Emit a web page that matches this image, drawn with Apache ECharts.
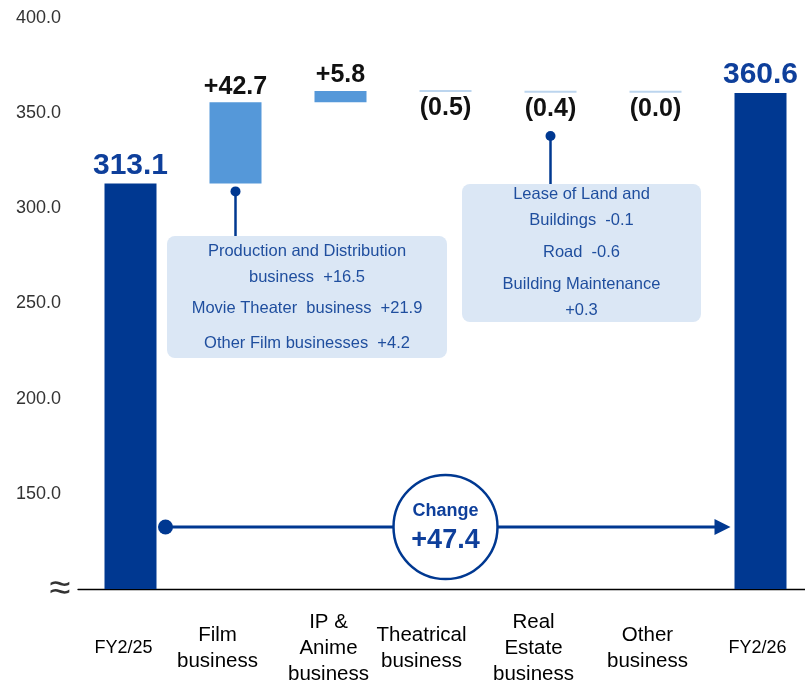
<!DOCTYPE html>
<html><head><meta charset="utf-8">
<script src="https://cdn.jsdelivr.net/npm/echarts@6/dist/echarts.min.js"></script>
<style>html,body{margin:0;padding:0;background:#fff}#c{width:805px;height:681px}</style>
</head><body><div id="c"></div>
<script>
var categories = ['FY2/25', 'Film\nbusiness', 'IP &\nAnime\nbusiness', 'Theatrical\nbusiness', 'Real\nEstate\nbusiness', 'Other\nbusiness', 'FY2/26'];
var startTotal = 313.1;
var changes = [42.7, 5.8, -0.5, -0.4, -0.0];
var endTotal = 360.6;
var totalChange = 47.4;
var yTicks = [100, 150, 200, 250, 300, 350, 400];
var filmDetail = ['Production and Distribution', 'business  +16.5', 'Movie Theater  business  +21.9', 'Other Film businesses  +4.2'];
var realEstateDetail = ['Lease of Land and', 'Buildings  -0.1', 'Road  -0.6', 'Building Maintenance', '+0.3'];

// layout only: horizontal shift (px, leftwards) of each category label, and its font size
var labelShift = [7, 18, 12, 24, 17, 8, 3];
var labelSize = [18, 20.5, 20.5, 20.5, 20.5, 20.5, 18];

var FONT = '"Liberation Sans", Arial, Helvetica, sans-serif';
var DARK = '#003891', MID = '#5598d9', LIGHT = '#bcd5ee', TXT = '#0e3f9b', BOXTXT = '#1f4e9e', BOXFILL = '#dbe7f5';

function isNeg(v) { return v < 0 || Object.is(v, -0); }

var baseData = [null], deltaData = [null], totalData = [];
var running = startTotal;
changes.forEach(function (c) {
  var neg = isNeg(c);
  var b;
  if (!neg) { b = running; running += c; } else { running += c; b = running; }
  baseData.push(+b.toFixed(2));
  deltaData.push({
    value: Math.abs(c),
    itemStyle: { color: neg ? LIGHT : MID },
    label: {
      show: true, position: neg ? 'bottom' : 'top', distance: neg ? 4 : 3,
      formatter: neg ? '(' + Math.abs(c).toFixed(1) + ')' : '+' + c.toFixed(1)
    }
  });
});
baseData.push(null); deltaData.push(null);
totalData = [startTotal, null, null, null, null, null, endTotal];

var catItems = categories.map(function (name, i) {
  return { value: name, textStyle: {
    fontSize: labelSize[i], lineHeight: 26, verticalAlign: 'middle', align: 'center',
    color: '#000', fontFamily: FONT, padding: [0, 2 * labelShift[i], 0, 0] } };
});

var chart = echarts.init(document.getElementById('c'), null, { renderer: 'canvas' });
chart.setOption({
  animation: false,
  backgroundColor: '#fff',
  textStyle: { fontFamily: FONT },
  grid: { left: 78, top: 18, width: 735, height: 571, containLabel: false, outerBoundsMode: 'none' },
  xAxis: {
    type: 'category', data: catItems,
    axisLine: { show: true, lineStyle: { color: '#000', width: 1.3 } },
    axisTick: { show: false },
    axisLabel: { interval: 0, margin: 59, verticalAlign: 'middle', fontSize: 20, lineHeight: 26, color: '#000', fontFamily: FONT, hideOverlap: false }
  },
  yAxis: {
    type: 'value', min: yTicks[0], max: yTicks[yTicks.length - 1], interval: 50,
    splitLine: { show: false }, axisLine: { show: false }, axisTick: { show: false },
    axisLabel: { margin: 17, fontSize: 18, color: '#333', fontFamily: FONT,
      formatter: function (v) { return v === yTicks[0] ? '' : v.toFixed(1); } }
  },
  series: [
    { name: 'total', type: 'bar', data: totalData, barWidth: 52, barGap: '-100%',
      itemStyle: { color: DARK },
      label: { show: true, position: 'top', distance: 3, fontSize: 30, fontWeight: 'bold', color: TXT, fontFamily: FONT,
        formatter: function (p) { return p.value.toFixed(1); } } },
    { name: 'base', type: 'bar', stack: 'w', data: baseData, barWidth: 52, barGap: '-100%',
      itemStyle: { color: 'rgba(0,0,0,0)' }, silent: true },
    { name: 'delta', type: 'bar', stack: 'w', data: deltaData, barWidth: 52, barGap: '-100%', barMinHeight: 2,
      label: { fontSize: 25, fontWeight: 'bold', color: '#111', fontFamily: FONT } }
  ]
});

function px(i, v) { return chart.convertToPixel({ xAxisIndex: 0, yAxisIndex: 0 }, [i, v]); }
var c0 = px(0, 0)[0], c1 = px(1, 0)[0], c4 = px(4, 0)[0], c6 = px(6, 0)[0], c3 = px(3, 0)[0];
var filmBottom = px(1, startTotal)[1];
var axisY = px(0, yTicks[0])[1];
var arrowY = 527;

function textLines(lines, cx, ys, size) {
  return lines.map(function (t, i) {
    return { type: 'text', z: 20, style: { text: t, x: cx, y: ys[i], align: 'center', verticalAlign: 'middle', fontSize: size, fill: BOXTXT, fontFamily: FONT } };
  });
}

var b1 = { x: 167, y: 236, w: 280, h: 122 };
var b2 = { x: 462, y: 184, w: 239, h: 138 };
var graphics = [
  { type: 'text', style: { text: '≈', x: 60, y: axisY + 1, align: 'center', verticalAlign: 'middle', fontSize: 38, fill: '#333', fontFamily: FONT } },
  // box 1
  { type: 'rect', z: 10, shape: { x: b1.x, y: b1.y, width: b1.w, height: b1.h, r: 8 }, style: { fill: BOXFILL } },
  { type: 'line', z: 10, shape: { x1: c1, y1: filmBottom + 8, x2: c1, y2: b1.y }, style: { stroke: DARK, lineWidth: 2.5 } },
  { type: 'circle', z: 11, shape: { cx: c1, cy: filmBottom + 8, r: 5 }, style: { fill: DARK } },
  // box 2
  { type: 'rect', z: 10, shape: { x: b2.x, y: b2.y, width: b2.w, height: b2.h, r: 8 }, style: { fill: BOXFILL } },
  { type: 'line', z: 10, shape: { x1: c4, y1: 136, x2: c4, y2: b2.y }, style: { stroke: DARK, lineWidth: 2.5 } },
  { type: 'circle', z: 11, shape: { cx: c4, cy: 136, r: 5 }, style: { fill: DARK } },
  // change arrow
  { type: 'line', z: 10, shape: { x1: c0 + 34, y1: arrowY, x2: c6 - 40, y2: arrowY }, style: { stroke: DARK, lineWidth: 3 } },
  { type: 'polygon', z: 10, shape: { points: [[c6 - 46, arrowY - 8], [c6 - 30, arrowY], [c6 - 46, arrowY + 8]] }, style: { fill: DARK } },
  { type: 'circle', z: 11, shape: { cx: c0 + 35, cy: arrowY, r: 7.5 }, style: { fill: DARK } },
  { type: 'circle', z: 12, shape: { cx: c3, cy: arrowY, r: 52 }, style: { fill: '#fff', stroke: DARK, lineWidth: 2.5 } },
  { type: 'text', z: 13, style: { text: 'Change', x: c3, y: 511, align: 'center', verticalAlign: 'middle', fontSize: 18, fontWeight: 'bold', fill: TXT, fontFamily: FONT } },
  { type: 'text', z: 13, style: { text: '+' + totalChange.toFixed(1), x: c3, y: 541, align: 'center', verticalAlign: 'middle', fontSize: 27, fontWeight: 'bold', fill: TXT, fontFamily: FONT } }
];
graphics = graphics.concat(textLines(filmDetail, b1.x + b1.w / 2, [251, 277, 308, 343], 16.5));
graphics = graphics.concat(textLines(realEstateDetail, b2.x + b2.w / 2, [194, 220, 252, 284, 310], 16.5));
chart.setOption({ graphic: graphics });
</script>
</body></html>
